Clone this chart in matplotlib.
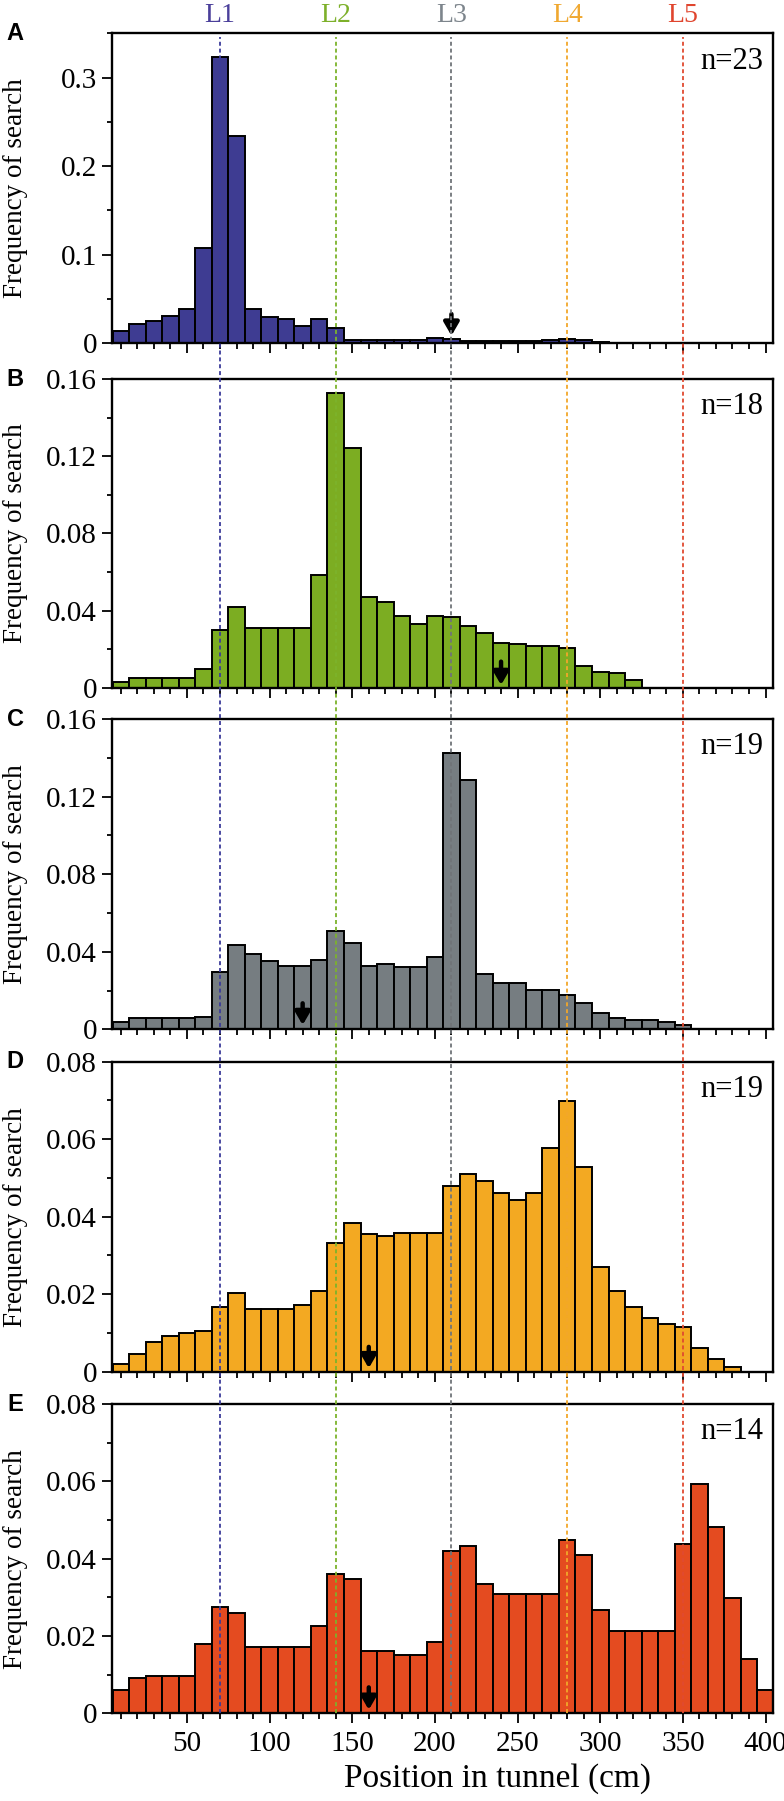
import matplotlib
matplotlib.use("Agg")
import matplotlib.pyplot as plt
import matplotlib.transforms as mtransforms
from matplotlib.lines import Line2D
from matplotlib.ticker import MultipleLocator, FuncFormatter

# ---- data ----
positions = list(range(10, 401, 10))  # bin centres, cm

freq_a = [0.0138, 0.0217, 0.0247, 0.031, 0.0385, 0.108, 0.323, 0.2346, 0.039, 0.030,
          0.027, 0.020, 0.0276, 0.017, 0.004, 0.004, 0.004, 0.004, 0.004, 0.0065,
          0.0045, 0.0025, 0.0025, 0.0025, 0.0025, 0.0025, 0.0035, 0.0045, 0.0035, 0.002,
          0, 0, 0, 0, 0, 0, 0, 0, 0, 0]
freq_b = [0.0029, 0.0048, 0.0048, 0.0048, 0.0048, 0.0095, 0.030, 0.0416, 0.031, 0.031,
          0.031, 0.031, 0.0583, 0.153, 0.1243, 0.0472, 0.0443, 0.0371, 0.0329, 0.0374,
          0.0367, 0.0319, 0.0286, 0.0233, 0.0226, 0.0216, 0.0216, 0.0207, 0.0112, 0.0083,
          0.0074, 0.0038, 0, 0, 0, 0, 0, 0, 0, 0]
freq_c = [0.0036, 0.006, 0.006, 0.006, 0.006, 0.0065, 0.0294, 0.0434, 0.0386, 0.0354,
          0.0326, 0.0326, 0.0357, 0.0508, 0.0446, 0.0328, 0.0335, 0.0321, 0.0321, 0.0374,
          0.1427, 0.1288, 0.0287, 0.0237, 0.0237, 0.0203, 0.0203, 0.0177, 0.0134, 0.0086,
          0.0057, 0.0048, 0.0048, 0.0038, 0.0021, 0, 0, 0, 0, 0]
freq_d = [0.002, 0.0046, 0.0076, 0.0092, 0.0099, 0.0104, 0.0166, 0.0203, 0.0162, 0.0162,
          0.0162, 0.0171, 0.0208, 0.0331, 0.0385, 0.0356, 0.035, 0.0357, 0.0359, 0.0359,
          0.0479, 0.0511, 0.0493, 0.0462, 0.0442, 0.0461, 0.0578, 0.0699, 0.0529, 0.0269,
          0.0207, 0.0168, 0.0138, 0.0124, 0.0115, 0.0062, 0.0032, 0.0011, 0, 0]
freq_e = [0.0059, 0.0091, 0.0097, 0.0097, 0.0097, 0.0178, 0.0275, 0.026, 0.0172, 0.0172,
          0.0172, 0.0172, 0.0225, 0.036, 0.0347, 0.0162, 0.0162, 0.015, 0.015, 0.0185,
          0.0419, 0.0432, 0.0335, 0.0309, 0.0309, 0.0309, 0.0309, 0.0449, 0.0409, 0.0266,
          0.0214, 0.0214, 0.0214, 0.0214, 0.0439, 0.0594, 0.0482, 0.0297, 0.0141, 0.0059]

panel_letters = ["A", "B", "C", "D", "E"]
n_labels = ["n=23", "n=18", "n=19", "n=19", "n=14"]
y_max = [0.35, 0.16, 0.16, 0.08, 0.08]
y_major = [0.1, 0.04, 0.04, 0.02, 0.02]
y_minor = [0.05, 0.02, 0.02, 0.01, 0.01]

# mean-position arrows: x, tail, tip
arrow_x = [210, 240, 120, 160, 160]
arrow_tail = [0.033, 0.0135, 0.0134, 0.0064, 0.0067]
arrow_tip = [0.0086, 0.0014, 0.0022, 0.0009, 0.0009]

landmarks = [70, 140, 210, 280, 350]
landmark_names = ["L1", "L2", "L3", "L4", "L5"]

bar_colors = ["#3e3c92", "#7cad22", "#767d81", "#f3a922", "#e44b20"]
line_colors = ["#3b3b9a", "#7cb32b", "#707478", "#f2a72a", "#e04a30"]
text_colors = ["#4a3f9a", "#7db02a", "#7d858c", "#f0a830", "#e0452e"]

all_freqs = [freq_a, freq_b, freq_c, freq_d, freq_e]

# ---- layout ----
W, H = 784, 1801
plt.rcParams["font.family"] = "serif"
plt.rcParams["font.serif"] = ["Liberation Serif", "DejaVu Serif"]
SERIF = ["Liberation Serif", "DejaVu Serif"]

fig = plt.figure(figsize=(W / 100, H / 100), dpi=100)

left_px, right_px = 111.7, 773
tops_px = [33.3, 379, 719, 1061.7, 1404]
bottoms_px = [343.3, 687.7, 1029.3, 1371.7, 1713.3]

axes = []
for i in range(5):
    rect = [left_px / W, 1 - bottoms_px[i] / H,
            (right_px - left_px) / W, (bottoms_px[i] - tops_px[i]) / H]
    ax = fig.add_axes(rect)
    axes.append(ax)

    ax.bar(positions, all_freqs[i], width=10, color=bar_colors[i],
           edgecolor="black", linewidth=1.4, zorder=2)

    ax.set_xlim(4.5, 404.5)
    ax.set_ylim(0, y_max[i])

    ax.xaxis.set_major_locator(MultipleLocator(50))
    ax.xaxis.set_minor_locator(MultipleLocator(10))
    ax.xaxis.set_major_formatter(FuncFormatter(lambda v, p: f"{v:.0f}"))
    ax.yaxis.set_major_locator(MultipleLocator(y_major[i]))
    ax.yaxis.set_minor_locator(MultipleLocator(y_minor[i]))
    ax.yaxis.set_major_formatter(FuncFormatter(lambda v, p: "0" if abs(v) < 1e-9 else f"{v:g}"))

    ax.tick_params(axis="both", which="major", direction="out", width=1.3,
                   labelsize=21, length=7)
    ax.tick_params(axis="x", which="major", pad=6)
    ax.tick_params(axis="both", which="minor", direction="out", width=1.3, length=4.5)
    ax.tick_params(axis="y", which="minor", length=3.5)
    if i < 4:
        ax.tick_params(axis="x", labelbottom=False)

    for sp in ax.spines.values():
        sp.set_linewidth(1.7)

    ax.set_ylabel("Frequency of search", fontsize=19.5)
    ax.yaxis.set_label_coords(-0.127, 0.5)

    ax.text(0.985, 0.91, n_labels[i], transform=ax.transAxes, ha="right",
            va="center", fontsize=22)

    ax.text(-0.146, 1.0, panel_letters[i], transform=ax.transAxes, ha="center",
            va="center", fontsize=17, fontweight="bold", family="Liberation Sans")

    ax.annotate("", xy=(arrow_x[i], arrow_tip[i]), xytext=(arrow_x[i], arrow_tail[i]),
                arrowprops=dict(arrowstyle="-|>,head_length=0.55,head_width=0.32",
                                color="black", lw=3.2, mutation_scale=14,
                                shrinkA=0, shrinkB=0), zorder=5)

axes[-1].set_xlabel("Position in tunnel (cm)", fontsize=24)
axes[-1].xaxis.set_label_coords(0.584, -0.16)

for ax in axes:
    for lab in ax.get_xticklabels() + ax.get_yticklabels():
        lab.set_fontfamily(SERIF)

# dashed landmark lines through all panels
blend = mtransforms.blended_transform_factory(axes[-1].transData, fig.transFigure)
y_bot = 1 - bottoms_px[-1] / H
y_top = 1 - (tops_px[0] + 4) / H
for x, c in zip(landmarks, line_colors):
    fig.lines.append(Line2D([x, x], [y_bot, y_top], transform=blend, color=c,
                            lw=1.3, linestyle=(0, (2.2, 1.6)), zorder=10))

for x, name, c in zip(landmarks, landmark_names, text_colors):
    fig.text(x, 1 - 16 / H, name, transform=blend, ha="center", va="center",
             fontsize=20, color=c)

fig.savefig("out.png", dpi=100)
